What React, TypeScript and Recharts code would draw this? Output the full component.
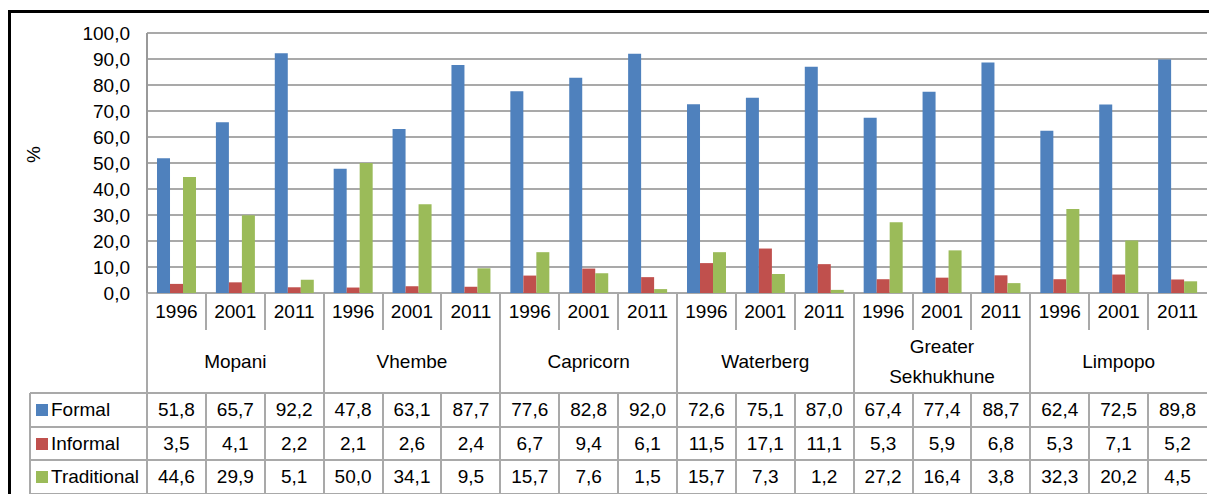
import { BarChart, Bar, XAxis, YAxis, CartesianGrid } from 'recharts'

const groups = ['Mopani', 'Vhembe', 'Capricorn', 'Waterberg', 'Greater Sekhukhune', 'Limpopo']
const years = ['1996', '2001', '2011']
const formal = [51.8, 65.7, 92.2, 47.8, 63.1, 87.7, 77.6, 82.8, 92.0, 72.6, 75.1, 87.0, 67.4, 77.4, 88.7, 62.4, 72.5, 89.8]
const informal = [3.5, 4.1, 2.2, 2.1, 2.6, 2.4, 6.7, 9.4, 6.1, 11.5, 17.1, 11.1, 5.3, 5.9, 6.8, 5.3, 7.1, 5.2]
const traditional = [44.6, 29.9, 5.1, 50.0, 34.1, 9.5, 15.7, 7.6, 1.5, 15.7, 7.3, 1.2, 27.2, 16.4, 3.8, 32.3, 20.2, 4.5]
const yTicks = [0, 10, 20, 30, 40, 50, 60, 70, 80, 90, 100]

const series = [
  { key: 'formal', name: 'Formal', color: '#4F81BD', values: formal },
  { key: 'informal', name: 'Informal', color: '#C0504D', values: informal },
  { key: 'traditional', name: 'Traditional', color: '#9BBB59', values: traditional },
]

const data = groups.flatMap((g, gi) =>
  years.map((y, yi) => {
    const i = gi * 3 + yi
    return { key: `${g} ${y}`, formal: formal[i], informal: informal[i], traditional: traditional[i] }
  })
)

const fmt = (v: number) => v.toFixed(1).replace('.', ',')

// layout in page pixels (wrapper is fixed at 0,0)
const W = 1209
const H = 494
const plotLeft = 147
const plotRight = 1207
const colW = (plotRight - plotLeft) / data.length
const axisY = 293
const yearBottom = 330
const tableTop = 393
const rowTops = [393, 427, 460, 494]
const tableLeft = 30
const lineColor = '#a9a9a9'
const font = '"Liberation Sans", Arial, sans-serif'

const App = () => {
  const lines: React.ReactNode[] = []
  for (let i = 0; i < data.length; i++) {
    const x = plotLeft + i * colW - 1
    if (i % 3 === 0) {
      lines.push(<div key={`v${i}`} style={{ position: 'absolute', left: x, top: axisY, width: 2, height: rowTops[3] - axisY, background: lineColor }} />)
    } else {
      lines.push(<div key={`va${i}`} style={{ position: 'absolute', left: x, top: axisY, width: 2, height: yearBottom - axisY, background: lineColor }} />)
      lines.push(<div key={`vb${i}`} style={{ position: 'absolute', left: x, top: tableTop, width: 2, height: rowTops[3] - tableTop, background: lineColor }} />)
    }
  }
  rowTops.forEach((y, i) =>
    lines.push(<div key={`h${i}`} style={{ position: 'absolute', left: tableLeft, top: y - 1, width: plotRight - tableLeft, height: 2, background: lineColor }} />)
  )
  lines.push(<div key='tl' style={{ position: 'absolute', left: tableLeft - 1, top: tableTop, width: 2, height: rowTops[3] - tableTop, background: lineColor }} />)

  const cell = (left: number, top: number, width: number, height: number, text: string, k: string) => (
    <div key={k} style={{ position: 'absolute', left, top, width, height, display: 'flex', alignItems: 'center', justifyContent: 'center', textAlign: 'center', lineHeight: '30px' }}>
      {text}
    </div>
  )

  return (
    <div style={{ position: 'fixed', left: 0, top: 0, width: W, height: H, overflow: 'hidden', fontFamily: font, fontSize: 19, color: '#000', background: '#fff' }}>
      <div style={{ position: 'absolute', left: 8, top: 10, width: W, height: H, borderLeft: '3px solid #000', borderTop: '3px solid #000' }} />
      <div style={{ position: 'absolute', left: 0, top: 0 }}>
        <BarChart width={W} height={310} data={data} margin={{ top: 33, right: W - plotRight, left: 0, bottom: 17 }} barCategoryGap='17%' barGap={0}>
          <CartesianGrid vertical={false} stroke={lineColor} strokeWidth={2} />
          <XAxis dataKey='key' hide />
          <YAxis
            width={plotLeft}
            domain={[0, 100]}
            ticks={yTicks}
            tickFormatter={fmt}
            tickLine={false}
            tickSize={0}
            tickMargin={17}
            axisLine={{ stroke: '#999', strokeWidth: 2 }}
            tick={{ fill: '#000', fontSize: 19, fontFamily: font }}
            label={{ value: '%', angle: -90, position: 'insideLeft', offset: 33, fill: '#000', fontSize: 19, fontFamily: font }}
            interval={0}
          />
          {series.map((s) => (
            <Bar key={s.key} dataKey={s.key} name={s.name} fill={s.color} isAnimationActive={false} />
          ))}
        </BarChart>
      </div>
      {lines}
      {data.map((_, i) => cell(plotLeft + i * colW, axisY, colW, yearBottom - axisY, years[i % 3], `y${i}`))}
      {groups.map((g, gi) => (
        <div key={`gt${gi}`} style={{ position: 'absolute', left: plotLeft + gi * 3 * colW, top: yearBottom, width: colW * 3, height: tableTop - yearBottom, display: 'flex', alignItems: 'center', justifyContent: 'center', textAlign: 'center', lineHeight: '30px' }}>
          <div style={{ width: 130 }}>{g}</div>
        </div>
      ))}
      {series.map((s, si) => (
        <div key={`lg${si}`} style={{ position: 'absolute', left: tableLeft + 6, top: rowTops[si], height: rowTops[si + 1] - rowTops[si], display: 'flex', alignItems: 'center' }}>
          <div style={{ width: 12, height: 12, background: s.color, marginRight: 3 }} />
          <span>{s.name}</span>
        </div>
      ))}
      {series.map((s, si) =>
        s.values.map((v, i) => cell(plotLeft + i * colW, rowTops[si], colW, rowTops[si + 1] - rowTops[si], fmt(v), `c${si}-${i}`))
      )}
    </div>
  )
}

export default App
